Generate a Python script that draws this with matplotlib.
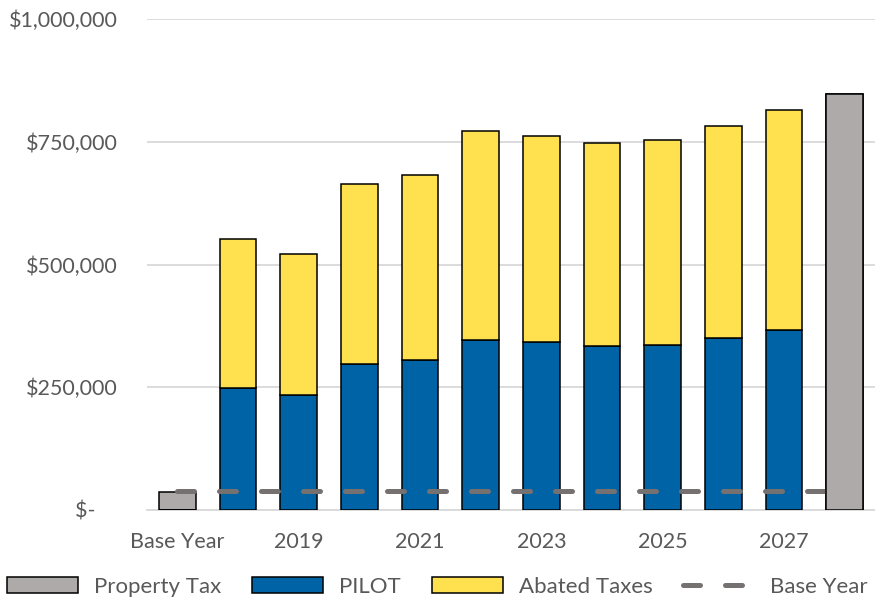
import matplotlib.pyplot as plt
from matplotlib.patches import Patch
from matplotlib.lines import Line2D

# categories along the x axis
years = ["Base Year", "2018", "2019", "2020", "2021", "2022", "2023",
         "2024", "2025", "2026", "2027", "2028"]

# full property tax (only base year and final year)
property_tax = [37000, 0, 0, 0, 0, 0, 0, 0, 0, 0, 0, 847000]
# PILOT payments
pilot = [0, 248000, 234000, 297000, 305000, 346000, 342000,
         334000, 336000, 350000, 367000, 0]
# abated taxes (stacked on top of PILOT)
abated = [0, 304000, 287000, 367000, 377000, 426000, 420000,
          413000, 418000, 432000, 448000, 0]
# base year tax level
base_year = [38500] * len(years)

ytick_vals = [0, 250000, 500000, 750000, 1000000]
ytick_labels = ["$-    ", "$250,000", "$500,000", "$750,000", "$1,000,000"]

c_gray = "#AEAAAA"
c_blue = "#0063A6"
c_yellow = "#FFE14F"
c_line = "#767171"
c_text = "#595959"

plt.rcParams["font.family"] = ["Lato", "DejaVu Sans"]

fig = plt.figure(figsize=(8.75, 6.02), dpi=100)
ax = fig.add_axes([0.168, 0.153, 0.832, 0.815])

x = list(range(len(years)))
w = 0.6
ax.bar(x, property_tax, w, color=c_gray, edgecolor="black", linewidth=1.1, zorder=3)
ax.bar(x, pilot, w, color=c_blue, edgecolor="black", linewidth=1.1, zorder=3)
ax.bar(x, abated, w, bottom=pilot, color=c_yellow, edgecolor="black",
       linewidth=1.1, zorder=3)
ax.plot(x, base_year, color=c_line, lw=3.6, dashes=(3.4, 5),
        dash_capstyle="round", zorder=4)
# last gray bar sits over the dashed line
ax.bar(x[-1:], property_tax[-1:], w, color=c_gray, edgecolor="black",
       linewidth=1.1, zorder=5)

ax.set_xlim(-0.5, len(years) - 0.5)
ax.set_ylim(0, 1000000)
ax.set_yticks(ytick_vals)
ax.set_yticklabels(ytick_labels)
ax.set_xticks(x)
ax.set_xticklabels([y if i % 2 == 0 else "" for i, y in enumerate(years)])
ax.tick_params(length=0, labelsize=15.5, colors=c_text)
ax.tick_params(axis="y", pad=21)
ax.tick_params(axis="x", pad=16)
ax.grid(axis="y", color="#D9D9D9", lw=1.3, zorder=0)
for s in ["left", "right", "top"]:
    ax.spines[s].set_visible(False)
ax.spines["bottom"].set_color("#D9D9D9")
ax.spines["bottom"].set_linewidth(1.3)

handles = [
    Patch(facecolor=c_gray, edgecolor="black", linewidth=1.1, label="Property Tax"),
    Patch(facecolor=c_blue, edgecolor="black", linewidth=1.1, label="PILOT"),
    Patch(facecolor=c_yellow, edgecolor="black", linewidth=1.1, label="Abated Taxes"),
    Line2D([0], [0], color=c_line, lw=3.6, dashes=(3.4, 5),
           dash_capstyle="round", label="Base Year"),
]
fig.legend(handles=handles, loc="lower center", bbox_to_anchor=(0.5, -0.025),
           ncol=4, frameon=False, fontsize=16, labelcolor=c_text,
           handlelength=3.2, handleheight=0.7, columnspacing=1.4,
           handletextpad=0.7)

fig.savefig("out.png", dpi=100)
